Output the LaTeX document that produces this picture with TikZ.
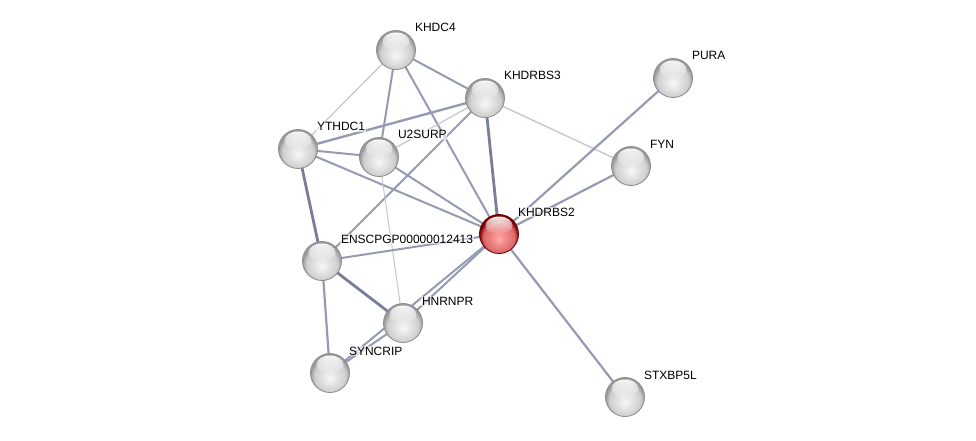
\documentclass[tikz,border=0pt]{standalone}
\usepackage{fontspec}
\setmainfont{Liberation Sans}
\usetikzlibrary{backgrounds,fadings}
\pgfdeclareradialshading{graysphere}{\pgfpoint{0bp}{-7bp}}{color(0bp)=(white!97!black); color(10bp)=(white!89!black); color(20bp)=(white!81!black); color(25bp)=(white!60!black); color(50bp)=(white!60!black)}
\pgfdeclareradialshading{redsphere}{\pgfpoint{0bp}{-7bp}}{color(0bp)=(red!33!white); color(10bp)=(red!45!white!94!black); color(20bp)=(red!52!white!86!black); color(25bp)=(red!50!black); color(50bp)=(red!50!black)}
\definecolor{emed}{RGB}{150,154,178}
\definecolor{elight}{RGB}{196,199,214}
\definecolor{edark}{RGB}{120,125,152}
\tikzset{
  prot/.style={circle, minimum size=39pt, inner sep=0pt, draw=white!55!black, line width=0.8pt, shade, shading=graysphere},
  protred/.style={circle, minimum size=39pt, inner sep=0pt, draw=red!40!black, line width=0.8pt, shade, shading=redsphere},
  lbl/.style={anchor=base west, inner sep=0.8pt, fill=white, fill opacity=0.6, text opacity=1, font=\fontsize{12pt}{13pt}\selectfont},
  med/.style={draw=emed, line width=2pt},
  lite/.style={draw=elight, line width=1.2pt},
  thick2/.style={draw=edark, line width=2.8pt},
  hl/.style={fill=white, path fading=south, opacity=0.95}
}
\begin{document}
\begin{tikzpicture}[x=1pt,y=-1pt]
\useasboundingbox (0,0) rectangle (976,441);
\node[prot] (KHDC4) at (396,50) {};
\node[prot] (KHDRBS3) at (485,98) {};
\node[prot] (PURA) at (673,78) {};
\node[prot] (YTHDC1) at (298,149) {};
\node[prot] (U2SURP) at (379,157) {};
\node[prot] (FYN) at (631,166) {};
\node[protred] (KHDRBS2) at (499,234) {};
\node[prot] (ENS) at (322,261) {};
\node[prot] (HNRNPR) at (403,323) {};
\node[prot] (SYNCRIP) at (330,373) {};
\node[prot] (STXBP5L) at (625,397) {};
\foreach \n in {KHDC4,KHDRBS3,PURA,YTHDC1,U2SURP,FYN,KHDRBS2,ENS,HNRNPR,SYNCRIP,STXBP5L}
  \fill[hl] ([yshift=8.5pt]\n.center) ellipse (13.5pt and 9pt);
\begin{scope}[on background layer]
\draw[lite] (KHDC4.center) -- (YTHDC1.center);
\draw[med] (KHDC4.center) -- (U2SURP.center);
\draw[med] (KHDC4.center) -- (KHDRBS3.center);
\draw[med] (KHDC4.center) -- (KHDRBS2.center);
\draw[med, line width=2.4pt] (KHDRBS3.center) -- (YTHDC1.center);
\draw[lite] (KHDRBS3.center) -- (U2SURP.center);
\draw[med, line width=1.8pt] (KHDRBS3.center) -- (ENS.center);
\draw[thick2] (KHDRBS3.center) -- (KHDRBS2.center);
\draw[lite, line width=1.4pt] (KHDRBS3.center) -- (FYN.center);
\draw[med] (YTHDC1.center) -- (U2SURP.center);
\draw[med] (YTHDC1.center) -- (KHDRBS2.center);
\draw[thick2] (YTHDC1.center) -- (ENS.center);
\draw[med] (U2SURP.center) -- (KHDRBS2.center);
\draw[lite, line width=1pt] (U2SURP.center) -- (HNRNPR.center);
\draw[med] (ENS.center) -- (KHDRBS2.center);
\draw[thick2] (ENS.center) -- (HNRNPR.center);
\draw[med, line width=2.2pt] (ENS.center) -- (SYNCRIP.center);
\draw[med] (HNRNPR.center) -- (KHDRBS2.center);
\draw[med] (SYNCRIP.center) -- (KHDRBS2.center);
\draw[med] (SYNCRIP.center) -- (HNRNPR.center);
\draw[med, line width=2.2pt] (PURA.center) -- (KHDRBS2.center);
\draw[med, line width=2.2pt] (FYN.center) -- (KHDRBS2.center);
\draw[med, line width=2.2pt] (KHDRBS2.center) -- (STXBP5L.center);
\end{scope}
\node[lbl] (lKHDC4) at ([xshift=18pt,yshift=18pt]KHDC4.center) {KHDC4};
\node[lbl] (lKHDRBS3) at ([xshift=18pt,yshift=18pt]KHDRBS3.center) {KHDRBS3};
\node[lbl] (lPURA) at ([xshift=18pt,yshift=18pt]PURA.center) {PURA};
\node[lbl] (lYTHDC1) at ([xshift=18pt,yshift=18pt]YTHDC1.center) {YTHDC1};
\node[lbl] (lU2SURP) at ([xshift=18pt,yshift=18pt]U2SURP.center) {U2SURP};
\node[lbl] (lFYN) at ([xshift=18pt,yshift=18pt]FYN.center) {FYN};
\node[lbl] (lKHDRBS2) at ([xshift=18pt,yshift=18pt]KHDRBS2.center) {KHDRBS2};
\node[lbl] (lENS) at ([xshift=18pt,yshift=18pt]ENS.center) {ENSCPGP00000012413};
\node[lbl] (lHNRNPR) at ([xshift=18pt,yshift=18pt]HNRNPR.center) {HNRNPR};
\node[lbl] (lSYNCRIP) at ([xshift=18pt,yshift=18pt]SYNCRIP.center) {SYNCRIP};
\node[lbl] (lSTXBP5L) at ([xshift=18pt,yshift=18pt]STXBP5L.center) {STXBP5L};
\end{tikzpicture}
\end{document}
